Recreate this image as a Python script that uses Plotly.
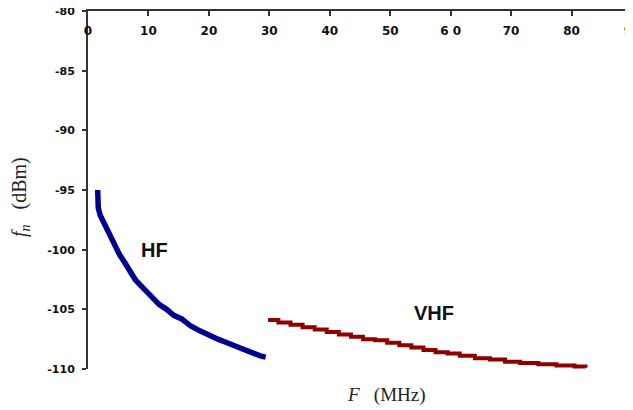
import plotly.graph_objects as go

# HF series (MHz, dBm)
hf_freq = [1.6, 1.6, 1.7, 2.0, 2.4, 2.8, 3.3, 3.9, 4.5, 5.2, 6.1, 6.9, 7.8, 8.7, 9.6, 10.6,
           11.8, 13.0, 14.2, 15.5, 17.0, 18.5, 20.0, 21.5, 23.0, 24.5, 26.0, 27.5, 28.5, 29.4]
hf_db = [-95.0, -95.8, -96.5, -97.1, -97.5, -97.9, -98.5, -99.2, -99.8, -100.4, -101.1, -101.8,
         -102.5, -103.0, -103.5, -104.0, -104.6, -105.0, -105.5, -105.8, -106.4, -106.8,
         -107.2, -107.5, -107.8, -108.1, -108.5, -108.7, -108.9, -109.0]

# VHF series (MHz, dBm)
vhf_freq = [29.8, 31.5, 33.5, 35.5, 37.5, 39.5, 41.5, 43.5, 45.5, 47.5, 49.5, 51.5, 53.5,
            55.5, 57.5, 59.5, 61.5, 64.0, 66.5, 69.0, 71.5, 74.5, 77.5, 80.5, 82.3]
vhf_db = [-105.9, -106.1, -106.3, -106.5, -106.7, -106.9, -107.1, -107.3, -107.5, -107.6,
          -107.8, -108.0, -108.2, -108.4, -108.6, -108.7, -108.9, -109.1, -109.2, -109.4,
          -109.5, -109.6, -109.7, -109.8, -109.9]

x_ticks = [0, 10, 20, 30, 40, 50, 60, 70, 80, 90]
x_tick_text = ["0", "10", "20", "30", "40", "50", "6 0", "70", "80", "90"]
y_ticks = [-110, -105, -100, -95, -90, -85, -80]
y_tick_text = ["-110", "-105", "-100", "-95", "-90", "-85", "-80"]

fig = go.Figure()
fig.add_trace(go.Scatter(x=hf_freq, y=hf_db, mode="lines",
                         line=dict(color="#00008f", width=5.5), showlegend=False))
fig.add_trace(go.Scatter(x=vhf_freq, y=vhf_db, mode="lines",
                         line=dict(color="#8f0000", width=4, shape="hv"), showlegend=False))

x_tick_font = dict(family="DejaVu Sans", size=12, color="#111", weight="bold")
y_tick_font = dict(family="DejaVu Sans", size=11, color="#111", weight="bold")

# page has an 8px body margin; plot area target in page px: x 88..632, y 11..369
FW, FH = 625, 402
L, T = 80, 3
W, H = 544, 358
R, B = FW - L - W, FH - T - H

fig.update_layout(
    template="none",
    width=FW, height=FH,
    margin=dict(l=L, r=R, t=T, b=B, pad=0),
    paper_bgcolor="white", plot_bgcolor="white",
    xaxis=dict(range=[0, 90], side="top", tickvals=x_ticks, ticktext=x_tick_text,
               ticks="inside", ticklen=5, tickwidth=2, tickcolor="#333",
               ticklabelposition="inside", ticklabelstandoff=10, ticklabeloverflow="allow",
               showline=True, linecolor="#333", linewidth=2, showgrid=False,
               zeroline=False, tickfont=x_tick_font, automargin=False),
    yaxis=dict(range=[-110, -80], tickvals=y_ticks, ticktext=y_tick_text,
               ticks="outside", ticklen=4, tickwidth=2, tickcolor="#333",
               ticklabelstandoff=5, ticklabeloverflow="allow",
               showline=True, linecolor="#333", linewidth=2, showgrid=False,
               zeroline=False, tickfont=y_tick_font, automargin=False),
    annotations=[
        dict(text="HF", x=11, y=-100.0, xref="x", yref="y", showarrow=False,
             font=dict(family="Liberation Sans", size=20, color="#111", weight="bold")),
        dict(text="VHF", x=57.2, y=-105.3, xref="x", yref="y", showarrow=False,
             font=dict(family="Liberation Sans", size=20, color="#111", weight="bold")),
        dict(text="<i>f</i><sub><i>n</i></sub>   (dBm)", x=(21 - 88) / W, y=(369 - 197) / H,
             xref="paper", yref="paper", showarrow=False, textangle=-90,
             xanchor="center", yanchor="middle",
             font=dict(family="Liberation Serif", size=20, color="#222")),
        dict(text="<i>F</i>   (MHz)", x=(386 - 88) / W, y=(369 - 395) / H,
             xref="paper", yref="paper", showarrow=False,
             xanchor="center", yanchor="middle",
             font=dict(family="Liberation Serif", size=19, color="#222")),
    ],
)

fig.write_html("out.html")
